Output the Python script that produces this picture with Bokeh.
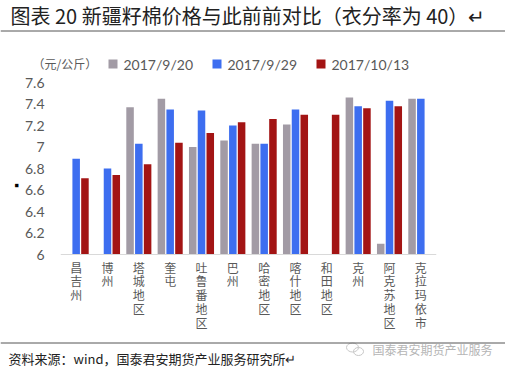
from bokeh.plotting import figure
from bokeh.layouts import column
from bokeh.models import (FactorRange, Range1d, ColumnDataSource, FixedTicker,
                          CustomJSTickFormatter, Span, Title)
from bokeh.core.properties import value
from bokeh.transform import dodge
from bokeh.embed import file_html
from bokeh.resources import INLINE

regions = ["昌吉州", "博州", "塔城地区", "奎屯", "吐鲁番地区", "巴州", "哈密地区",
           "喀什地区", "和田地区", "克州", "阿克苏地区", "克拉玛依市"]
series_names = ["2017/9/20", "2017/9/29", "2017/10/13"]
price_0920 = [None, None, 7.37, 7.45, 7.00, 7.06, 7.03, 7.21, None, 7.46, 6.10, 7.45]
price_0929 = [6.89, 6.80, 7.03, 7.35, 7.34, 7.20, 7.03, 7.35, None, 7.38, 7.43, 7.45]
price_1013 = [6.71, 6.74, 6.84, 7.04, 7.13, 7.23, 7.26, 7.30, 7.30, 7.36, 7.38, None]
y_ticks = [6.0, 6.2, 6.4, 6.6, 6.8, 7.0, 7.2, 7.4, 7.6]
y_base, y_top = 6.0, 7.6

title_text = "图表 20 新疆籽棉价格与此前前对比（衣分率为 40）↵"
unit_text = "（元/公斤）"
source_text = "资料来源：wind，国泰君安期货产业服务研究所↵"
watermark_text = "国泰君安期货产业服务"

colors = ["#a29ba5", "#3d6ef0", "#a31414"]
offsets = [-0.28, 0.0, 0.28]

CJK = "Noto Sans CJK SC"
W, H = 505, 371
TOP_H = 72                     # header strip height
FL, FR, FT, FB = 60, 436, 82, 341
BASE_Y = 254
px_per_unit = (BASE_Y - FT) / (y_top - y_base)
y_start = y_base - (FB - BASE_Y) / px_per_unit


def no_align(f):
    try:
        f.frame_align = False
    except Exception:
        pass


def strip(y0, y1):
    f = figure(width=W, height=y1 - y0, x_range=Range1d(0, W), y_range=Range1d(y1, y0),
               output_backend="svg", toolbar_location=None, min_border=0,
               x_axis_location=None, y_axis_location=None)
    f.outline_line_color = None
    f.xgrid.visible = False
    f.ygrid.visible = False
    no_align(f)
    return f


def put_text(f, text, x, y, size, color="#333333", font=CJK):
    f.text(x=[x], y=[y], text=[text], text_font=value(font), text_font_size=size,
           text_color=color, text_baseline="middle", text_align="left")


def rule(f, y):
    f.add_layout(Span(location=y, dimension="width", line_color="#555555", line_width=1))


# ---------------- header ----------------
head = strip(0, TOP_H)
put_text(head, title_text, 10, 15, "20px", "#222222")
rule(head, 30.5)
put_text(head, unit_text, 32, 63, "12px", "#595959")
legend_x = [108, 212, 316]
head.quad(left=legend_x, right=[x + 9 for x in legend_x], top=[59] * 3, bottom=[68] * 3,
          fill_color=colors, line_color=None)
for name, lx in zip(series_names, legend_x):
    put_text(head, name, lx + 15, 64, "14px", "#595959", "Lato")

# ---------------- chart ----------------
p = figure(width=W, height=FB - TOP_H, x_range=FactorRange(*regions),
           y_range=Range1d(y_start, y_top), output_backend="svg", toolbar_location=None,
           min_border_left=FL, min_border_right=W - FR, min_border_top=FT - TOP_H,
           min_border_bottom=0)
p.outline_line_color = None
p.xgrid.visible = False
p.ygrid.visible = False
p.xaxis.visible = False
no_align(p)

for vals, col, off in zip([price_0920, price_0929, price_1013], colors, offsets):
    xs = [r for r, v in zip(regions, vals) if v is not None]
    ts = [v for v in vals if v is not None]
    src = ColumnDataSource(dict(x=xs, top=ts))
    p.vbar(x=dodge("x", off, range=p.x_range), top="top", bottom=y_base, width=0.24,
           source=src, fill_color=col, line_color=None)

p.add_layout(Span(location=y_base, dimension="width", line_color="#d9d9d9", line_width=1))

cat_src = ColumnDataSource(dict(x=regions, y=[y_base] * len(regions),
                                t=["\n".join(r) for r in regions]))
p.text(x="x", y="y", text="t", source=cat_src, y_offset=4, text_align="center",
       text_baseline="top", text_font=value(CJK), text_font_size="12px",
       text_color="#595959", text_line_height=0.82)

ya = p.yaxis[0]
ya.ticker = FixedTicker(ticks=y_ticks)
ya.formatter = CustomJSTickFormatter(code="return String(parseFloat(tick.toFixed(1)));")
ya.axis_line_color = None
ya.major_tick_line_color = None
ya.minor_tick_line_color = None
ya.major_label_standoff = 10
ya.major_label_text_font_size = "14px"
ya.major_label_text_color = "#595959"
ya.major_label_text_font = "Lato"

# small black marker at the far left of the chart
p.add_layout(Title(text="■", align="right", offset=101, standoff=4,
                   text_font_size="7px", text_color="#000000"), "left")

# ---------------- footer ----------------
foot = strip(FB, H)
rule(foot, 342.5)
put_text(foot, source_text, 8, 358, "13px", "#222222")
# faint logo next to the watermark
foot.ellipse(x=[352, 358], y=[347, 351], width=[12, 10], height=[9, 8],
             fill_color=None, line_color="#c8c8c8", line_width=1)
put_text(foot, watermark_text, 372, 349, "12px", "#b5b5b5")

layout = column(head, p, foot, spacing=0)
open("out.html", "w").write(file_html(layout, INLINE))
